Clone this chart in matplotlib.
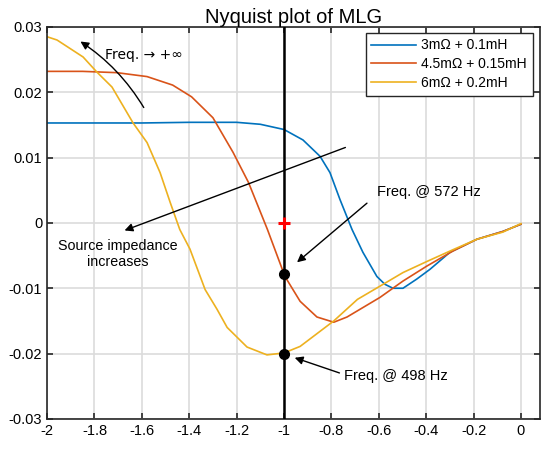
import matplotlib
matplotlib.use("Agg")
import matplotlib.pyplot as plt
import numpy as np

plt.rcParams['font.family'] = ['Liberation Sans', 'DejaVu Sans']
plt.rcParams['axes.unicode_minus'] = False

# Nyquist loci (real, imag) for three source impedances
x_3m = [-2.0, -1.8, -1.6, -1.4, -1.2, -1.1, -1.0, -0.92, -0.848, -0.806, -0.764, -0.713,
        -0.667, -0.608, -0.574, -0.54, -0.498, -0.44, -0.384, -0.30, -0.186, -0.076, 0.0]
y_3m = [0.0153, 0.0153, 0.0153, 0.0154, 0.0154, 0.0151, 0.0143, 0.0127, 0.0102, 0.0077, 0.0036, -0.001,
        -0.0045, -0.0082, -0.0094, -0.0100, -0.0100, -0.0086, -0.0071, -0.0045, -0.0025, -0.0013, -0.0002]

x_45m = [-2.0, -1.85, -1.705, -1.578, -1.47, -1.39, -1.30, -1.215, -1.15, -1.07, -0.996,
         -0.932, -0.861, -0.79, -0.734, -0.595, -0.498, -0.397, -0.287, -0.186, -0.076, 0.0]
y_45m = [0.0232, 0.0232, 0.0230, 0.0224, 0.0211, 0.0193, 0.0161, 0.0108, 0.0062, -0.001, -0.0082,
         -0.012, -0.0144, -0.0152, -0.0144, -0.0114, -0.0089, -0.0066, -0.0043, -0.0025, -0.0013, -0.0002]

x_6m = [-2.0, -1.958, -1.848, -1.79, -1.726, -1.637, -1.578, -1.523, -1.48, -1.44, -1.397,
        -1.333, -1.283, -1.24, -1.156, -1.072, -1.0, -0.932, -0.79, -0.69, -0.582, -0.498,
        -0.397, -0.287, -0.186, -0.076, 0.0]
y_6m = [0.0285, 0.0280, 0.0254, 0.0231, 0.0208, 0.0153, 0.0123, 0.0077, 0.0031, -0.001, -0.004,
        -0.0102, -0.0132, -0.016, -0.019, -0.0202, -0.0199, -0.0189, -0.015, -0.0117, -0.0094, -0.0076,
        -0.0059, -0.0041, -0.0025, -0.0014, -0.0001]

labels = ['3m\u03a9 + 0.1mH', '4.5m\u03a9 + 0.15mH', '6m\u03a9 + 0.2mH']
colors = ['#0072BD', '#D95319', '#EDB120']

# crossings of the real-axis line at -1
cross_572 = -0.0078
cross_498 = -0.0200

xticks = [-2, -1.8, -1.6, -1.4, -1.2, -1, -0.8, -0.6, -0.4, -0.2, 0]
yticks = [-0.03, -0.02, -0.01, 0, 0.01, 0.02, 0.03]

fig = plt.figure(figsize=(5.41, 4.49), dpi=100)
ax = fig.add_axes([0.087, 0.067, 0.911, 0.873])

for xs, ys, lab, c in zip([x_3m, x_45m, x_6m], [y_3m, y_45m, y_6m], labels, colors):
    ax.plot(xs, ys, color=c, lw=1.2, label=lab)

ax.axvline(-1, color='black', lw=1.8, zorder=3)
ax.plot([-1], [0], marker='+', color='red', ms=8, mew=2.2, zorder=5)
ax.plot([-1, -1], [cross_572, cross_498], 'o', color='black', ms=7, zorder=5)

ax.set_xlim(-2, 0.08)
ax.set_ylim(-0.03, 0.03)
ax.set_xticks(xticks)
ax.set_yticks(yticks)
ax.set_xticklabels(['%g' % t for t in xticks])
ax.set_yticklabels(['%g' % t for t in yticks])
ax.tick_params(direction='in', top=True, right=True, labelsize=10.5, length=4, width=1.2, color='#262626')
ax.grid(True, color='#dcdcdc', lw=1.2)
ax.set_axisbelow(True)
for s in ax.spines.values():
    s.set_color('#262626')
    s.set_linewidth(1.2)

ax.set_title('Nyquist plot of MLG', fontsize=14.5, pad=3)

leg = ax.legend(loc='upper right', bbox_to_anchor=(0.985, 0.985), fontsize=10, fancybox=False,
                framealpha=1, edgecolor='#262626', handlelength=3.2, borderpad=0.4,
                labelspacing=0.35, handletextpad=0.4, borderaxespad=0)
leg.get_frame().set_linewidth(1.0)

# annotations
ax.annotate('', xy=(-1.869, 0.028), xytext=(-1.586, 0.0173),
            arrowprops=dict(arrowstyle='-|>', color='black', lw=1.0, mutation_scale=12,
                            connectionstyle='arc3,rad=0.12'))
ax.text(-1.755, 0.0257, 'Freq. \u2192 +\u221e', fontsize=10, va='center', ha='left',
        family=['DejaVu Sans'])

ax.annotate('', xy=(-1.684, -0.0013), xytext=(-0.730, 0.0117),
            arrowprops=dict(arrowstyle='-|>', color='black', lw=1.0, mutation_scale=12))
ax.text(-1.70, -0.0048, 'Source impedance\nincreases', fontsize=10.3, ha='center', va='center',
        linespacing=1.2)

ax.annotate('', xy=(-0.954, -0.0063), xytext=(-0.641, 0.0033),
            arrowprops=dict(arrowstyle='-|>', color='black', lw=1.0, mutation_scale=12))
ax.text(-0.608, 0.0047, 'Freq. @ 572 Hz', fontsize=10.5, va='center', ha='left')

ax.annotate('', xy=(-0.966, -0.0205), xytext=(-0.755, -0.0231),
            arrowprops=dict(arrowstyle='-|>', color='black', lw=1.0, mutation_scale=12))
ax.text(-0.747, -0.0234, 'Freq. @ 498 Hz', fontsize=10.5, va='center', ha='left')

fig.savefig('out.png', dpi=100)
